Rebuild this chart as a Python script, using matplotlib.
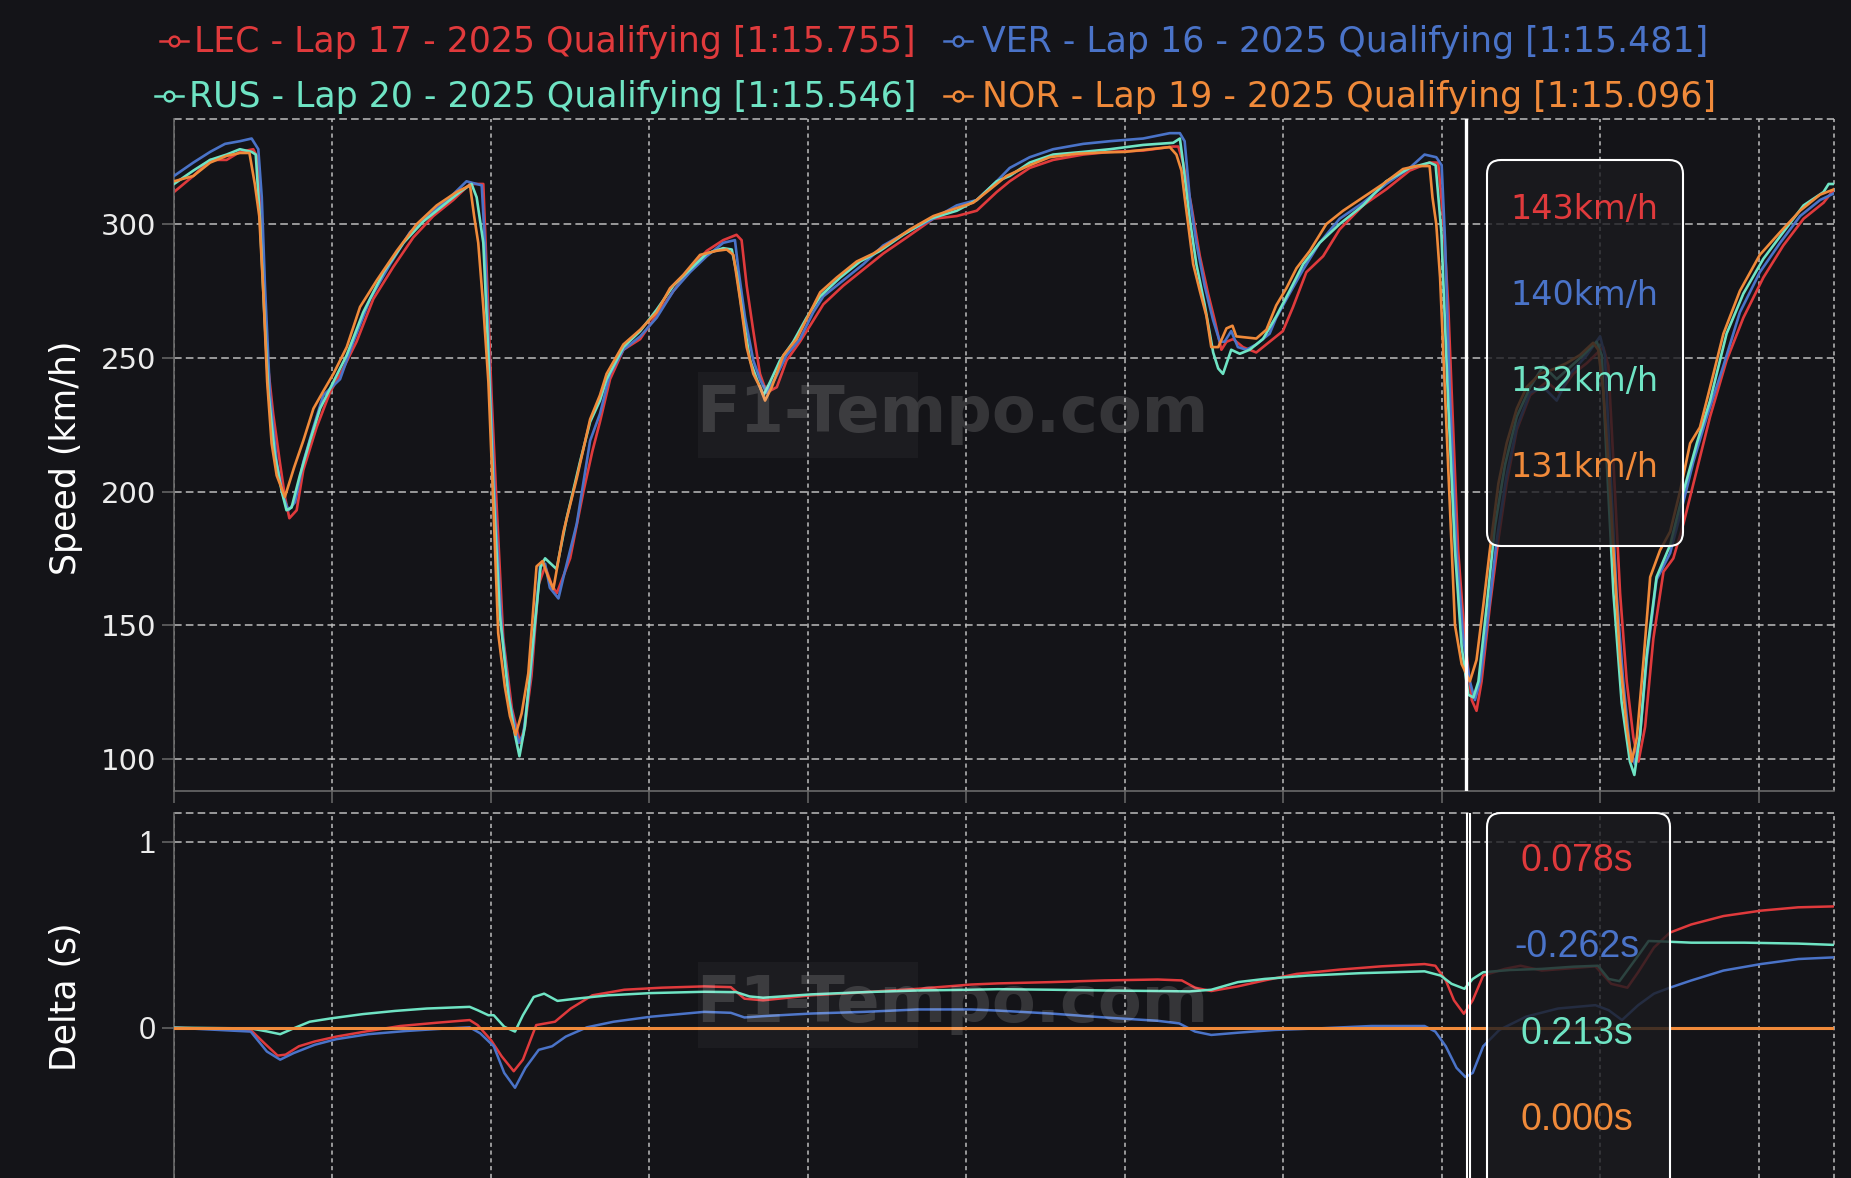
import matplotlib
matplotlib.use("Agg")
import matplotlib.pyplot as plt
from matplotlib.patches import FancyBboxPatch, Rectangle
from matplotlib.lines import Line2D
from matplotlib.transforms import IdentityTransform

plt.rcParams["lines.scale_dashes"] = False

W, H = 1851, 1178
BG = "#141418"
GRID = "#bdbdbd"
AXIS = "#6a6a6a"

drivers = ["LEC", "VER", "RUS", "NOR"]
laps = [17, 16, 20, 19]
lap_times = ["1:15.755", "1:15.481", "1:15.546", "1:15.096"]
session = "2025 Qualifying"
colors = ["#e03a3c", "#4a73c8", "#6fe4c4", "#f08a3a"]

# speed traces, (distance m, speed km/h)
lec_speed = [(0, 312), (61, 318), (114, 324), (166, 324), (208, 327), (250, 328), (263, 325), (277, 293),
             (292, 252), (313, 229), (334, 211), (350, 198), (364, 190), (387, 193), (408, 208), (450, 224),
             (492, 237), (534, 246), (576, 256), (629, 272), (692, 284), (755, 295), (818, 303), (881, 309),
             (934, 315), (976, 315), (986, 285), (1002, 236), (1018, 195), (1039, 145), (1066, 119),
             (1092, 106), (1107, 112), (1128, 131), (1150, 165), (1171, 172), (1192, 165), (1208, 162),
             (1250, 175), (1292, 200), (1320, 215), (1344, 226), (1376, 242), (1418, 253), (1471, 257),
             (1523, 266), (1576, 275), (1628, 283), (1681, 290), (1733, 294), (1775, 296), (1791, 294),
             (1807, 277), (1828, 260), (1849, 244), (1870, 237), (1902, 239), (1933, 249), (1975, 256),
             (2007, 262), (2049, 270), (2112, 277), (2175, 283), (2238, 289), (2312, 295), (2396, 302),
             (2470, 303), (2533, 305), (2596, 312), (2637, 316), (2700, 321), (2774, 324), (2869, 326),
             (2953, 327), (3058, 327.5), (3153, 329), (3169, 329), (3184, 323), (3210, 307), (3237, 288),
             (3263, 274), (3284, 264), (3305, 253), (3321, 256), (3342, 257), (3373, 254), (3415, 252),
             (3457, 256), (3499, 260), (3531, 269), (3573, 282), (3626, 288), (3678, 298), (3752, 307),
             (3825, 313), (3899, 320), (3962, 323), (3989, 323), (4005, 302), (4021, 269), (4032, 236),
             (4052, 178), (4073, 145), (4095, 122), (4110, 118), (4126, 129), (4152, 157), (4179, 182),
             (4205, 203), (4237, 223), (4279, 236), (4331, 241), (4373, 237), (4415, 244), (4458, 248),
             (4510, 254), (4526, 247), (4542, 211), (4563, 162), (4584, 129), (4605, 108), (4621, 99),
             (4642, 112), (4668, 145), (4700, 170), (4731, 175), (4763, 188), (4805, 208), (4847, 228),
             (4899, 249), (4952, 265), (5015, 280), (5078, 292), (5142, 302), (5205, 308), (5238, 313)]

ver_speed = [(0, 318), (61, 323), (114, 327), (161, 330), (208, 331), (245, 332), (266, 328), (277, 310),
             (287, 277), (303, 236), (324, 211), (345, 198), (361, 193), (382, 196), (408, 211), (440, 224),
             (471, 236), (524, 242), (566, 256), (619, 272), (682, 285), (745, 297), (808, 304), (871, 310),
             (923, 316), (971, 314.5), (981, 293), (997, 241), (1013, 195), (1034, 149), (1060, 121),
             (1087, 106), (1102, 109), (1123, 129), (1155, 172), (1171, 173), (1186, 164), (1213, 160),
             (1229, 168), (1271, 188), (1313, 219), (1344, 229), (1376, 244), (1418, 253), (1471, 258),
             (1523, 265), (1576, 275), (1628, 282), (1681, 288), (1733, 293), (1770, 294), (1781, 283),
             (1802, 265), (1828, 249), (1849, 242), (1870, 237), (1896, 242), (1933, 251), (1975, 257),
             (2017, 267), (2049, 273), (2112, 279), (2175, 285), (2238, 292), (2312, 297), (2396, 302),
             (2470, 307), (2533, 309), (2596, 316), (2637, 321), (2700, 325), (2774, 328), (2869, 330),
             (2953, 331), (3058, 332), (3142, 334), (3174, 334), (3189, 331), (3205, 310), (3226, 293),
             (3252, 277), (3279, 264), (3300, 256), (3315, 256), (3336, 260), (3357, 254), (3384, 253),
             (3415, 255), (3457, 259), (3478, 265), (3520, 274), (3563, 283), (3615, 293), (3678, 302),
             (3752, 308), (3825, 315), (3899, 321), (3946, 326), (3983, 325), (4000, 322), (4011, 293),
             (4026, 236), (4047, 178), (4068, 145), (4089, 129), (4105, 122), (4121, 129), (4147, 154),
             (4174, 182), (4205, 206), (4237, 224), (4279, 237), (4321, 239), (4363, 234), (4405, 244),
             (4458, 251), (4500, 258), (4515, 251), (4531, 211), (4552, 162), (4573, 129), (4594, 104),
             (4610, 98), (4626, 109), (4647, 137), (4678, 167), (4721, 177), (4752, 191), (4794, 211),
             (4837, 228), (4889, 247), (4941, 267), (5004, 282), (5068, 293), (5131, 303), (5194, 309),
             (5238, 311.5)]

rus_speed = [(0, 315), (61, 320), (114, 324), (166, 326), (208, 328), (245, 327), (258, 326), (271, 302),
             (284, 269), (298, 237), (318, 214), (340, 200), (355, 193), (371, 194), (397, 206), (429, 219),
             (461, 231), (503, 241), (545, 251), (597, 267), (661, 282), (724, 293), (787, 301), (850, 307),
             (902, 312), (939, 315), (955, 310), (976, 293), (992, 251), (1007, 203), (1028, 154), (1055, 124),
             (1076, 109), (1090, 101), (1107, 112), (1134, 145), (1157, 172), (1171, 175), (1207, 171),
             (1239, 190), (1281, 211), (1313, 226), (1344, 234), (1365, 242), (1418, 254), (1471, 260),
             (1523, 268), (1576, 277), (1628, 283), (1681, 289), (1733, 291), (1760, 290.5), (1775, 282),
             (1797, 264), (1818, 249), (1839, 242), (1860, 236), (1881, 241), (1912, 249), (1954, 256),
             (1996, 265), (2039, 273), (2102, 280), (2165, 286), (2228, 290), (2301, 296), (2386, 302),
             (2470, 305), (2533, 309), (2596, 316), (2637, 318), (2700, 323), (2774, 326), (2869, 327),
             (2953, 328), (3058, 329.6), (3153, 330.4), (3174, 332), (3184, 323), (3205, 302), (3226, 285),
             (3252, 270), (3279, 252), (3295, 246), (3310, 244), (3336, 253), (3363, 251.5), (3394, 253),
             (3436, 257), (3478, 265.5), (3520, 275), (3563, 285), (3615, 293), (3678, 300), (3752, 307),
             (3825, 316), (3899, 321), (3962, 323), (3981, 322), (3999, 297), (4021, 232), (4042, 178),
             (4063, 142), (4084, 124), (4100, 123), (4116, 129), (4142, 157), (4168, 187), (4200, 210),
             (4237, 228), (4279, 239), (4321, 247), (4363, 242), (4405, 246.5), (4447, 251), (4489, 256),
             (4505, 251), (4521, 211), (4542, 162), (4568, 121), (4594, 99), (4608, 94), (4626, 109),
             (4647, 139), (4678, 168), (4721, 180), (4763, 200), (4805, 218), (4847, 234), (4899, 259),
             (4952, 274), (5015, 287), (5078, 297), (5142, 307), (5205, 312), (5221, 315), (5238, 315)]

nor_speed = [(0, 316), (61, 318), (114, 323), (166, 325.5), (208, 326.6), (238, 326.6), (255, 315), (269, 303),
             (282, 274), (294, 241), (308, 218), (324, 206), (350, 198), (379, 209), (408, 219), (440, 231),
             (471, 237.5), (503, 244), (545, 254), (587, 269), (640, 279), (703, 290), (766, 300), (829, 307),
             (892, 312), (934, 314.5), (947, 303), (960, 293), (976, 269), (992, 241), (1005, 203),
             (1023, 147), (1044, 127), (1060, 116), (1078, 109), (1097, 117), (1118, 132), (1144, 172),
             (1163, 174), (1181, 168), (1197, 163.5), (1229, 185), (1271, 205), (1313, 227), (1344, 236),
             (1365, 244), (1418, 255), (1471, 260.5), (1523, 267), (1565, 276), (1607, 281), (1660, 288.5),
             (1712, 290), (1744, 290.5), (1765, 288.5), (1786, 272), (1807, 254), (1828, 244), (1849, 239),
             (1865, 234), (1886, 239), (1923, 251), (1965, 257), (2007, 267), (2039, 274.5), (2091, 280),
             (2154, 286), (2207, 289), (2259, 293), (2322, 298), (2396, 303), (2470, 306), (2522, 308),
             (2575, 313), (2627, 318), (2700, 322), (2763, 325), (2848, 326.3), (2932, 326.8), (3000, 327),
             (3079, 328), (3142, 328.8), (3163, 326), (3179, 320), (3189, 310), (3200, 300), (3216, 285),
             (3237, 275), (3258, 265.5), (3273, 254), (3295, 254), (3321, 261), (3340, 262), (3352, 258),
             (3384, 257.6), (3415, 257.2), (3447, 260.5), (3478, 269.6), (3510, 276), (3542, 283.5),
             (3584, 290), (3636, 300), (3689, 305), (3752, 310), (3815, 315), (3878, 320.6), (3920, 321.7),
             (3962, 321.7), (3971, 310), (3983, 300), (3995, 280), (4011, 236), (4026, 195), (4042, 150),
             (4063, 135.5), (4089, 129), (4110, 137), (4131, 157), (4152, 178), (4179, 203), (4205, 218),
             (4237, 231), (4268, 239), (4310, 244), (4352, 245.7), (4394, 248), (4436, 251), (4478, 255.6),
             (4494, 253), (4510, 237.5), (4526, 211), (4542, 178), (4563, 137), (4584, 112), (4600, 99),
             (4616, 108), (4637, 137), (4658, 168), (4689, 178), (4721, 185), (4752, 200), (4784, 218),
             (4815, 224), (4847, 239), (4889, 259), (4941, 275), (5004, 288.5), (5068, 297), (5131, 305),
             (5194, 311), (5238, 313)]

# gap to NOR, (distance m, delta s)
lec_delta = [(0, 0), (242, -0.012), (285, -0.083), (327, -0.15), (352, -0.145), (394, -0.1), (444, -0.074),
             (512, -0.048), (613, -0.018), (714, 0.009), (832, 0.027), (933, 0.041), (958, 0.014),
             (1000, -0.066), (1034, -0.154), (1072, -0.234), (1101, -0.172), (1143, 0.014), (1202, 0.032),
             (1252, 0.103), (1320, 0.174), (1421, 0.204), (1539, 0.215), (1673, 0.222), (1757, 0.218),
             (1800, 0.156), (1859, 0.147), (2010, 0.174), (2178, 0.191), (2347, 0.209), (2515, 0.232),
             (2599, 0.238), (2768, 0.245), (2936, 0.254), (3104, 0.259), (3180, 0.254), (3222, 0.215),
             (3273, 0.197), (3357, 0.222), (3441, 0.254), (3542, 0.289), (3677, 0.312), (3811, 0.33),
             (3946, 0.342), (3980, 0.333), (4013, 0.254), (4039, 0.147), (4070, 0.075), (4098, 0.147),
             (4131, 0.28), (4199, 0.316), (4249, 0.333), (4316, 0.307), (4384, 0.316), (4485, 0.33),
             (4535, 0.236), (4586, 0.215), (4620, 0.298), (4670, 0.431), (4720, 0.511), (4788, 0.555),
             (4889, 0.6), (5007, 0.629), (5125, 0.647), (5238, 0.652)]

ver_delta = [(0, 0), (242, -0.021), (293, -0.128), (335, -0.172), (377, -0.137), (444, -0.092), (512, -0.062),
             (613, -0.035), (731, -0.018), (832, -0.007), (933, 0.002), (966, -0.03), (1009, -0.1),
             (1042, -0.243), (1076, -0.323), (1109, -0.216), (1151, -0.119), (1193, -0.1), (1236, -0.048),
             (1303, 0.002), (1387, 0.032), (1505, 0.059), (1673, 0.085), (1757, 0.08), (1800, 0.055),
             (1859, 0.062), (2010, 0.076), (2178, 0.085), (2347, 0.098), (2515, 0.098), (2599, 0.092),
             (2768, 0.076), (2936, 0.055), (3104, 0.037), (3172, 0.023), (3222, -0.021), (3273, -0.039),
             (3357, -0.027), (3475, -0.012), (3609, -0.004), (3778, 0.009), (3946, 0.009), (3980, -0.021),
             (4013, -0.1), (4047, -0.216), (4075, -0.265), (4098, -0.243), (4131, -0.1), (4182, -0.012),
             (4266, 0.059), (4367, 0.103), (4485, 0.121), (4527, 0.094), (4569, 0.041), (4620, 0.121),
             (4670, 0.183), (4720, 0.215), (4788, 0.254), (4889, 0.307), (5007, 0.342), (5125, 0.369),
             (5238, 0.378)]

rus_delta = [(0, 0), (242, -0.004), (293, -0.02), (335, -0.035), (377, -0.004), (428, 0.032), (495, 0.05),
             (596, 0.073), (697, 0.09), (798, 0.103), (933, 0.112), (958, 0.094), (992, 0.067), (1009, 0.067),
             (1042, 0.005), (1076, -0.021), (1101, 0.067), (1135, 0.165), (1168, 0.183), (1210, 0.144),
             (1269, 0.156), (1370, 0.174), (1505, 0.186), (1673, 0.193), (1774, 0.191), (1816, 0.168),
             (1859, 0.161), (2010, 0.179), (2178, 0.191), (2347, 0.2), (2515, 0.204), (2599, 0.207),
             (2768, 0.204), (2936, 0.2), (3104, 0.197), (3205, 0.195), (3273, 0.204), (3357, 0.245),
             (3441, 0.262), (3576, 0.28), (3744, 0.293), (3946, 0.303), (3997, 0.28), (4031, 0.236),
             (4072, 0.209), (4098, 0.262), (4131, 0.298), (4215, 0.31), (4316, 0.316), (4417, 0.328),
             (4493, 0.333), (4527, 0.262), (4561, 0.25), (4620, 0.387), (4653, 0.466), (4704, 0.463),
             (4788, 0.457), (4956, 0.457), (5125, 0.452), (5238, 0.445)]

nor_delta = [(0, 0.0), (5238, 0.0)]

speeds = [lec_speed, ver_speed, rus_speed, nor_speed]
deltas = [lec_delta, ver_delta, rus_delta, nor_delta]

lap_length = 5238
cursor_dist = 4077
cursor_speed = [143, 140, 132, 131]
cursor_delta = [0.078, -0.262, 0.213, 0.000]


def fx(x):
    return x / W


def fy(y):
    return 1 - y / H


fig = plt.figure(figsize=(W / 100, H / 100), dpi=100)
fig.patch.set_facecolor(BG)

ax1 = fig.add_axes([fx(174), fy(791), (1834 - 174) / W, (791 - 119) / H])
ax2 = fig.add_axes([fx(174), 0, (1834 - 174) / W, (1178 - 813) / H])

for ax in (ax1, ax2):
    ax.set_facecolor(BG)
    ax.set_xlim(0, lap_length)
    ax.set_xticks(range(0, 5001, 500))
    ax.set_axisbelow(True)
    ax.xaxis.grid(True, linestyle=(0, (3, 2.6)), color=GRID, lw=1.1)
    ax.yaxis.grid(True, linestyle=(0, (5.5, 3)), color=GRID, lw=1.1)
    for s in ("top", "right"):
        ax.spines[s].set_visible(False)
    for s in ("left", "bottom"):
        ax.spines[s].set_color(AXIS)
        ax.spines[s].set_linewidth(1.2)
    ax.tick_params(colors=AXIS, length=8.6, width=1.1, pad=4.3)
    ax.tick_params(axis="x", labelbottom=False)
    ax.axvline(lap_length, linestyle=(0, (3, 2.6)), color=GRID, lw=1.1, clip_on=False, zorder=0.5)

ax1.set_ylim(88, 339.3)
ax1.set_yticks([100, 150, 200, 250, 300])
ax1.axhline(339.3, linestyle=(0, (5.5, 3)), color=GRID, lw=1.1, clip_on=False, zorder=0.5)
for lab in ax1.get_yticklabels():
    lab.set_color("#ececec")
    lab.set_fontsize(21)

ax2.set_ylim(-0.808, 1.154)
ax2.set_yticks([0, 1])
ax2.set_yticklabels(["0", "1"])
ax2.spines["bottom"].set_visible(False)
ax2.tick_params(axis="x", length=0)
ax2.axhline(1.154, linestyle=(0, (5.5, 3)), color=GRID, lw=1.1, clip_on=False, zorder=0.5)
for lab in ax2.get_yticklabels():
    lab.set_color("#ececec")
    lab.set_fontsize(22)
    lab.set_family("Liberation Sans")

for i in range(4):
    d, v = zip(*speeds[i])
    ax1.plot(d, v, color=colors[i], lw=1.9, zorder=2 + i)
    d, s = zip(*deltas[i])
    ax2.plot(d, s, color=colors[i], lw=2.2 if i == 3 else 1.8, zorder=2 + i)

# hover cursor
ax1.axvline(cursor_dist, color="white", lw=2.4, zorder=10)
ax2.axvline(cursor_dist + 2, color="white", lw=1.5, zorder=10)
ax2.axvline(cursor_dist + 14, color="white", lw=1.5, zorder=10)

fig.text(fx(66), fy(458), "Speed (km/h)", rotation=90, ha="center", va="center", fontsize=25, color="white")
fig.text(fx(66), fy(997), "Delta (s)", rotation=90, ha="center", va="center", fontsize=25, color="white")

# watermark
idt = IdentityTransform()
for base in (432, 1022):
    fig.add_artist(Rectangle((698, H - base - 26), 220, 86, transform=idt, facecolor="white",
                             alpha=0.035, edgecolor="none"))
    fig.text(fx(952), fy(base), "F1-Tempo.com", ha="center", va="baseline", fontsize=46,
             fontweight="bold", color="white", alpha=0.14)

# tooltips
fig.add_artist(FancyBboxPatch((1487, H - 546), 196, 386, boxstyle="round,pad=0,rounding_size=14",
                              transform=idt, facecolor=(0.105, 0.105, 0.12, 0.8), edgecolor="white", lw=1.5))
fig.add_artist(FancyBboxPatch((1487, -40), 183, H - 813 + 40, boxstyle="round,pad=0,rounding_size=14",
                              transform=idt, facecolor=(0.105, 0.105, 0.12, 0.8), edgecolor="white", lw=1.5))
for i in range(4):
    fig.text(fx(1584), fy(209 + 86.3 * i), f"{cursor_speed[i]}km/h", ha="center", va="center",
             fontsize=24, color=colors[i])
    fig.text(fx(1577), fy(861 + 86.3 * i), f"{cursor_delta[i]:.3f}s", ha="center", va="center",
             fontsize=27, color=colors[i], family="Liberation Sans")

# legend
r = fig.canvas.get_renderer()
baselines = [52, 107]
for i, name in enumerate(drivers):
    label = f"{name} - Lap {laps[i]} - {session} [{lap_times[i]}]"
    base = baselines[i // 2]
    if i % 2 == 0:
        t = fig.text(fx(916), fy(base), label, ha="right", va="baseline", fontsize=25, color=colors[i])
        m0 = t.get_window_extent(r).x0 - 34
    else:
        t = fig.text(fx(982), fy(base), label, ha="left", va="baseline", fontsize=25, color=colors[i])
        m0 = 944
    ym = H - (base - 11)
    fig.add_artist(Line2D([m0, m0 + 28], [ym, ym], transform=idt, color=colors[i], lw=1.8))
    fig.add_artist(Line2D([m0 + 14], [ym], transform=idt, marker="o", ms=7, mfc=BG, mec=colors[i], mew=1.8))

fig.savefig("out.png", dpi=100, facecolor=BG)
